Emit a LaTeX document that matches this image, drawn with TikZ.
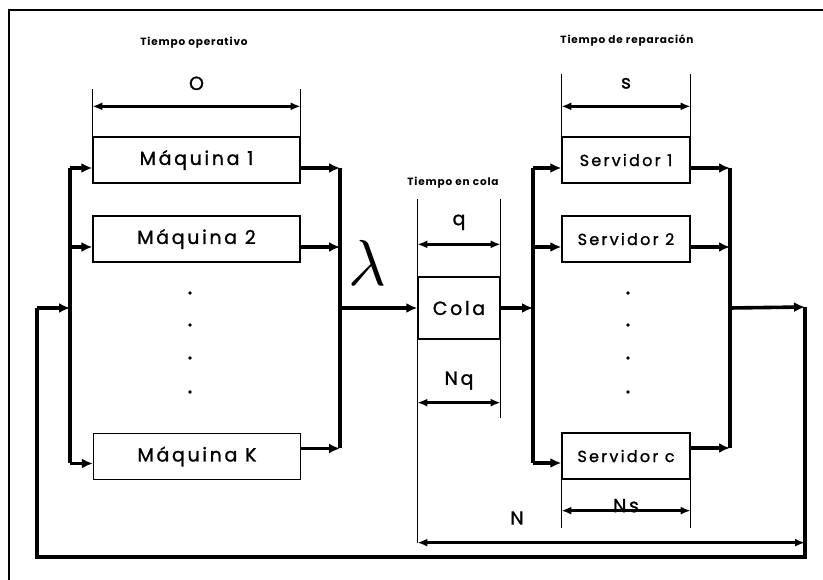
\documentclass[tikz,border=0pt]{standalone}
\usepackage{fontspec}
\setmainfont{Poppins}
\newfontfamily\spacedfont[LetterSpace=14,FakeBold=1.2]{Poppins}
\newfontfamily\headfont[LetterSpace=8]{Poppins}
\usetikzlibrary{arrows.meta}
\newcommand\boxfont{\spacedfont\fontsize{19}{19}\selectfont}
\newcommand\srvfont{\spacedfont\fontsize{16}{16}\selectfont}
\newcommand\hdfont{\headfont\bfseries\fontsize{10.5}{10.5}\selectfont}

\begin{document}
\begin{tikzpicture}[x=1pt, y=-1pt,
  maq/.style={draw, line width=1.3pt, minimum width=207pt, minimum height=46pt, inner sep=0pt, font=\boxfont},
  srv/.style={maq, minimum width=128pt, font=\srvfont},
  bus/.style={line width=3.6pt},
  feed/.style={bus, -{Latex[length=11pt,width=10pt]}},
  ext/.style={line width=1.2pt},
  dim/.style={line width=2.8pt, {Latex[length=10pt,width=8pt]}-{Latex[length=10pt,width=8pt]}},
  lbl/.style={font=\boxfont, inner sep=0pt}]
  \useasboundingbox (0,0) rectangle (823,580);
  % frame
  \draw[line width=1.6pt] (9,580) -- (9,10) -- (823,10);
  % titles
  \node[font=\hdfont] (tO) at (194,43) {Tiempo operativo};
  \node[font=\hdfont] (tQ) at (453,183) {Tiempo en cola};
  \node[font=\hdfont] (tS) at (627,41) {Tiempo de reparación};
  % machines
  \node[maq] (m1) at (196.5,160) {Máquina 1};
  \node[maq] (m2) at (196.5,239) {Máquina 2};
  \node[maq] (mk) at (197,456.5) {Máquina K};
  % queue
  \node[maq, minimum width=82pt, minimum height=62pt] (cola) at (459,308) {Cola};
  % servers
  \node[srv] (s1) at (626,160) {Servidor 1};
  \node[srv] (s2) at (626,239) {Servidor 2};
  \node[srv] (sc) at (626,456) {Servidor c};
  % dots
  \foreach \y in {293,325,358,392}{\fill (190,\y) circle (1.8); \fill (628,\y) circle (1.8);}
  % buses
  \coordinate (lbT) at (70,168);  \coordinate (lbB) at (70,463);
  \coordinate (rbT) at (340,168); \coordinate (rbB) at (340,448);
  \coordinate (slT) at (533,168); \coordinate (slB) at (533,463);
  \coordinate (srT) at (730,168); \coordinate (srB) at (730,448);
  \draw[bus] (lbT) -- (lbB);
  \draw[bus] (rbT) -- (rbB);
  \draw[bus] (slT) -- (slB);
  \draw[bus] (srT) -- (srB);
  % in and out of the boxes
  \foreach \b/\dy in {m1/-8,m2/-8,mk/-7}{\draw[feed] ([yshift=\dy pt]\b.west -| lbT) -- ([yshift=\dy pt]\b.west);}
  \foreach \b/\dy in {m1/-8,m2/-8,mk/8}{\draw[feed] ([yshift=\dy pt]\b.east) -- ([yshift=\dy pt]\b.east -| rbT);}
  \foreach \b/\dy in {s1/-8,s2/-8,sc/-7}{\draw[feed] ([yshift=\dy pt]\b.west -| slT) -- ([yshift=\dy pt]\b.west);}
  \foreach \b/\dy in {s1/-8,s2/-8,sc/8}{\draw[feed] ([yshift=\dy pt]\b.east) -- ([yshift=\dy pt]\b.east -| srT);}
  \draw[feed] (cola.west -| rbT) -- (cola.west);
  \draw[feed] (cola.east) -- (cola.east -| slT);
  % arrival rate
  \node[inner sep=0pt, scale=6.5] (lam) at (367,263) {$\lambda$};
  % feedback loop
  \coordinate (lpR) at (805,307); \coordinate (lpRB) at (805,557);
  \coordinate (lpLB) at (37,557); \coordinate (lpL) at (37,308);
  \draw[feed] (cola.east -| srT) -- (lpR);
  \draw[bus] (lpR) -- (lpRB) -- (lpLB) -- (lpL);
  \draw[feed] (lpL) -- (lpL -| lbT);
  % O
  \draw[ext] (m1.north west) -- ++(0,-47);
  \draw[ext] (m1.north east) -- ++(0,-47);
  \draw[dim] ([yshift=30pt]m1.north west) -- ([yshift=30pt]m1.north east);
  \node[lbl] (lO) at ([yshift=53pt]m1.north) {O};
  % s
  \draw[ext] (s1.north west) -- ++(0,-62);
  \draw[ext] (s1.north east) -- ++(0,-62);
  \draw[dim] ([yshift=30pt]s1.north west) -- ([yshift=30pt]s1.north east);
  \node[lbl] (lS) at ([yshift=53pt]s1.north) {s};
  % q and Nq
  \draw[ext] (cola.north west) -- ++(0,-77);
  \draw[ext] (cola.north east) -- ++(0,-77);
  \draw[dim] ([yshift=32pt]cola.north west) -- ([yshift=32pt]cola.north east);
  \node[lbl] (lq) at ([yshift=54pt]cola.north) {q};
  \draw[ext] (cola.south west) -- ++(0,203);
  \draw[ext] (cola.south east) -- ++(0,78);
  \draw[dim] ([yshift=-63pt]cola.south west) -- ([yshift=-63pt]cola.south east);
  \node[lbl] (lNq) at ([yshift=-41pt]cola.south) {Nq};
  % Ns
  \draw[ext] (sc.south west) -- ++(0,48);
  \draw[ext] (sc.south east) -- ++(0,48);
  \draw[dim] ([yshift=-31pt]sc.south west) -- ([yshift=-31pt]sc.south east);
  \node[lbl] (lNs) at ([yshift=-26pt]sc.south) {Ns};
  % N
  \coordinate (nl) at ([yshift=-203pt]cola.south west);
  \draw[dim] (nl) -- (nl -| lpR);
  \node[lbl] (lN) at (517,518) {N};
\end{tikzpicture}
\end{document}
